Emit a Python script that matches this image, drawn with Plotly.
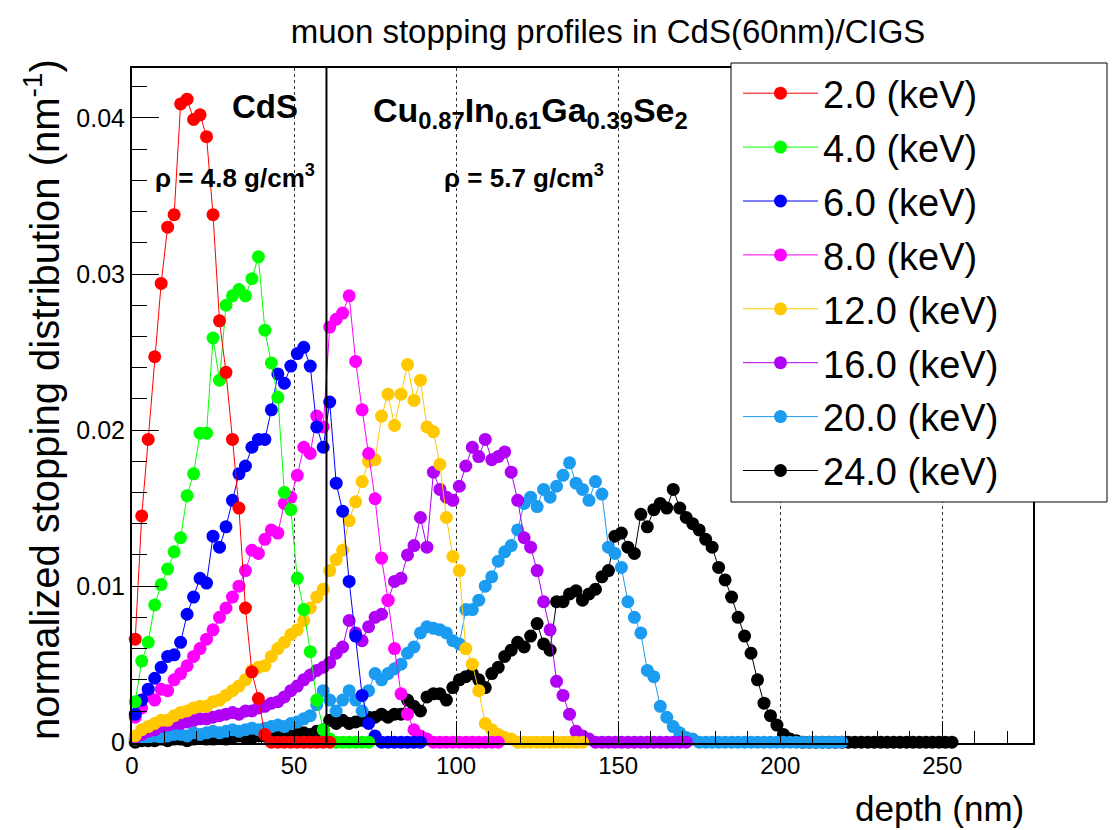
import plotly.graph_objects as go

# Depth bin centres in nm (2 nm wide bins)
DEPTH_NM = list(range(1, 255, 2))
CDS_THICKNESS_NM = 60

ENERGY_LABELS = ["2.0 (keV)", "4.0 (keV)", "6.0 (keV)", "8.0 (keV)",
                 "12.0 (keV)", "16.0 (keV)", "20.0 (keV)", "24.0 (keV)"]
COLORS = ["#ff0000", "#00ff00", "#0000ff", "#ff00ff",
          "#ffc800", "#b000f5", "#1c9cf0", "#000000"]

# Normalized stopping distribution (nm^-1) per implantation energy
E02 = [0.0066, 0.0145, 0.0194, 0.0247, 0.0294, 0.0330, 0.0338, 0.0409, 0.0412, 0.0399,
       0.0402, 0.0388, 0.0338, 0.0270, 0.0237, 0.0194, 0.0150, 0.0086, 0.0045, 0.0028,
       0.0005, 0, 0, 0, 0, 0, 0, 0, 0, 0, 0]
E04 = [0.0026, 0.0052, 0.0064, 0.0088, 0.0101, 0.0111, 0.0122, 0.0131, 0.0158, 0.0172,
       0.0198, 0.0198, 0.0259, 0.0232, 0.0280, 0.0286, 0.0290, 0.0286, 0.0297, 0.0311,
       0.0264, 0.0243, 0.0221, 0.0160, 0.0149, 0.0105, 0.0085, 0.0058, 0.0027, 0.0008,
       0.0002, 0, 0, 0, 0, 0, 0]
E06 = [0.0018, 0.0027, 0.0034, 0.0041, 0.0048, 0.0055, 0.0056, 0.0064, 0.0082, 0.0093,
       0.0105, 0.0102, 0.0132, 0.0125, 0.0138, 0.0155, 0.0172, 0.0177, 0.0189, 0.0194,
       0.0194, 0.0213, 0.0236, 0.0230, 0.0241, 0.0249, 0.0253, 0.0241, 0.0202, 0.0189,
       0.0218, 0.0166, 0.0148, 0.0103, 0.0068, 0.0030, 0.0012, 0.0004, 0, 0,
       0, 0, 0, 0, 0]
E08 = [0.0016, 0.0022, 0.0030, 0.0027, 0.0034, 0.0033, 0.0040, 0.0044, 0.0049, 0.0055,
       0.0060, 0.0066, 0.0072, 0.0080, 0.0086, 0.0093, 0.0100, 0.0110, 0.0123, 0.0121,
       0.0130, 0.0136, 0.0134, 0.0153, 0.0157, 0.0171, 0.0189, 0.0185, 0.0209, 0.0202,
       0.0266, 0.0271, 0.0275, 0.0286, 0.0244, 0.0213, 0.0185, 0.0156, 0.0118, 0.0091,
       0.0060, 0.0031, 0.0018, 0.0008, 0.0004, 0.0002, 0, 0, 0, 0,
       0, 0, 0, 0, 0, 0, 0]
E12 = [0.0004, 0.0008, 0.0010, 0.0012, 0.0014, 0.0014, 0.0017, 0.0019, 0.0020, 0.0022,
       0.0023, 0.0023, 0.0026, 0.0027, 0.0030, 0.0033, 0.0036, 0.0040, 0.0046, 0.0048,
       0.0049, 0.0055, 0.0060, 0.0064, 0.0069, 0.0072, 0.0078, 0.0086, 0.0093, 0.0098,
       0.0110, 0.0117, 0.0123, 0.0142, 0.0154, 0.0167, 0.0180, 0.0181, 0.0209, 0.0223,
       0.0203, 0.0223, 0.0242, 0.0219, 0.0232, 0.0202, 0.0199, 0.0178, 0.0144, 0.0119,
       0.0110, 0.0060, 0.0050, 0.0033, 0.0012, 0.0008, 0.0005, 0.0003, 0.0002, 0,
       0, 0, 0, 0, 0, 0, 0, 0, 0, 0]
E16 = [0.0003, 0.0005, 0.0007, 0.0008, 0.0010, 0.0011, 0.0012, 0.0012, 0.0013, 0.0014,
       0.0015, 0.0015, 0.0016, 0.0017, 0.0018, 0.0019, 0.0018, 0.0020, 0.0020, 0.0022,
       0.0023, 0.0025, 0.0026, 0.0029, 0.0033, 0.0036, 0.0040, 0.0043, 0.0046, 0.0048,
       0.0051, 0.0057, 0.0061, 0.0078, 0.0070, 0.0065, 0.0074, 0.0080, 0.0082, 0.0091,
       0.0103, 0.0105, 0.0120, 0.0126, 0.0144, 0.0125, 0.0173, 0.0162, 0.0157, 0.0155,
       0.0164, 0.0177, 0.0189, 0.0183, 0.0194, 0.0181, 0.0183, 0.0186, 0.0173, 0.0155,
       0.0131, 0.0125, 0.0110, 0.0090, 0.0072, 0.0039, 0.0030, 0.0018, 0.0007, 0.0004,
       0.0002, 0, 0, 0, 0, 0, 0, 0, 0, 0,
       0, 0, 0, 0, 0, 0]
E20 = [0.0002, 0.0003, 0.0003, 0.0004, 0.0003, 0.0004, 0.0005, 0.0005, 0.0004, 0.0006,
       0.0005, 0.0006, 0.0007, 0.0006, 0.0007, 0.0008, 0.0007, 0.0008, 0.0009, 0.0008,
       0.0009, 0.0010, 0.0011, 0.0010, 0.0012, 0.0013, 0.0015, 0.0017, 0.0024, 0.0033,
       0.0027, 0.0020, 0.0027, 0.0033, 0.0027, 0.0020, 0.0033, 0.0044, 0.0040, 0.0044,
       0.0047, 0.0050, 0.0057, 0.0061, 0.0070, 0.0074, 0.0073, 0.0072, 0.0070, 0.0065,
       0.0063, 0.0085, 0.0085, 0.0091, 0.0100, 0.0106, 0.0116, 0.0122, 0.0126, 0.0136,
       0.0153, 0.0157, 0.0151, 0.0162, 0.0157, 0.0164, 0.0171, 0.0179, 0.0166, 0.0162,
       0.0155, 0.0167, 0.0159, 0.0125, 0.0121, 0.0112, 0.0090, 0.0080, 0.0070, 0.0046,
       0.0042, 0.0023, 0.0016, 0.0010, 0.0006, 0.0003, 0.0002, 0, 0, 0,
       0, 0, 0, 0, 0, 0, 0, 0, 0, 0,
       0, 0, 0, 0, 0, 0, 0, 0, 0, 0]
E24 = [0.0000, 0.0001, 0.0001, 0.0001, 0.0002, 0.0001, 0.0002, 0.0002, 0.0001, 0.0002,
       0.0003, 0.0002, 0.0002, 0.0003, 0.0002, 0.0003, 0.0004, 0.0003, 0.0003, 0.0004,
       0.0004, 0.0003, 0.0004, 0.0005, 0.0004, 0.0005, 0.0006, 0.0005, 0.0007, 0.0008,
       0.0014, 0.0012, 0.0014, 0.0012, 0.0013, 0.0014, 0.0016, 0.0016, 0.0018, 0.0016,
       0.0018, 0.0018, 0.0027, 0.0023, 0.0020, 0.0029, 0.0031, 0.0031, 0.0027, 0.0035,
       0.0040, 0.0042, 0.0044, 0.0040, 0.0035, 0.0044, 0.0048, 0.0055, 0.0059, 0.0064,
       0.0061, 0.0068, 0.0076, 0.0063, 0.0059, 0.0090, 0.0090, 0.0095, 0.0097, 0.0091,
       0.0095, 0.0098, 0.0106, 0.0110, 0.0132, 0.0134, 0.0125, 0.0121, 0.0146, 0.0138,
       0.0149, 0.0153, 0.0150, 0.0162, 0.0150, 0.0144, 0.0140, 0.0136, 0.0130, 0.0125,
       0.0112, 0.0104, 0.0093, 0.0080, 0.0068, 0.0057, 0.0040, 0.0025, 0.0017, 0.0011,
       0.0005, 0.0002, 0.0001, 0, 0, 0, 0, 0, 0, 0,
       0, 0, 0, 0, 0, 0, 0, 0, 0, 0,
       0, 0, 0, 0, 0, 0, 0]

PROFILES = [E02, E04, E06, E08, E12, E16, E20, E24]

FONT = "Liberation Sans, Arial, Helvetica, sans-serif"

fig = go.Figure()
# highest energy drawn first so the shallow profiles sit on top
for rank in reversed(range(len(PROFILES))):
    values = PROFILES[rank]
    color = COLORS[rank]
    fig.add_trace(go.Scatter(
        x=DEPTH_NM[:len(values)],
        y=values,
        name=ENERGY_LABELS[rank],
        mode="lines+markers",
        line=dict(color=color, width=1),
        marker=dict(color=color, size=13),
        cliponaxis=False,
        legendrank=rank + 1,
        legendgroup=f"g{rank}",
    ))

# plot area in pixels: x 132..1033, y 68..743
L, R, T, B = 132, 1033, 68, 743
W_PX, H_PX = R - L, B - T


def px_x(px):
    return (px - L) / W_PX


def px_y(py):
    return (B - py) / H_PX


fig.update_layout(
    width=1112, height=830,
    margin=dict(l=L, r=1112 - R, t=T, b=830 - B, autoexpand=False),
    paper_bgcolor="white", plot_bgcolor="white",
    font=dict(family=FONT, color="black"),
    showlegend=True,
    title=dict(text="muon stopping profiles in CdS(60nm)/CIGS",
               x=608 / 1112, xanchor="center", xref="container",
               y=1 - 31 / 830, yanchor="middle", yref="container",
               font=dict(size=33, family=FONT, color="black")),
    legend=dict(
        x=px_x(738), xanchor="left", y=px_y(62), yanchor="top",
        bgcolor="rgba(0,0,0,0)", borderwidth=0,
        font=dict(size=38, family=FONT, color="black"),
        itemwidth=75, traceorder="grouped", tracegroupgap=1.5,
        maxheight=700,
    ),
)

fig.update_xaxes(
    range=[0, 278], showline=True, linecolor="black", linewidth=2, mirror=True,
    tickmode="linear", tick0=0, dtick=50,
    ticks="inside", ticklen=22, tickwidth=1, tickcolor="black",
    tickfont=dict(size=24, family=FONT, color="black"),
    showgrid=True, gridcolor="#333333", gridwidth=1, griddash="dot",
    zeroline=False,
    minor=dict(dtick=10, ticks="inside", ticklen=12, tickwidth=1,
               tickcolor="black", showgrid=False),
)
fig.update_yaxes(
    range=[-0.00005, 0.0432], showline=True, linecolor="black", linewidth=2, mirror=True,
    tickmode="linear", tick0=0, dtick=0.01,
    ticks="inside", ticklen=27, tickwidth=1, tickcolor="black",
    tickfont=dict(size=25, family=FONT, color="black"),
    showgrid=False, zeroline=False,
    minor=dict(dtick=0.002, ticks="inside", ticklen=15, tickwidth=1,
               tickcolor="black", showgrid=False),
)

# CdS / CIGS interface
fig.add_shape(type="line", xref="x", yref="paper",
              x0=CDS_THICKNESS_NM, x1=CDS_THICKNESS_NM, y0=0, y1=1,
              line=dict(color="black", width=2), layer="above")

# legend frame
fig.add_shape(type="rect", xref="paper", yref="paper",
              x0=px_x(731), x1=px_x(1107), y0=px_y(502), y1=px_y(63),
              fillcolor="white", line=dict(color="black", width=1), layer="above")

annotations = [
    dict(text="<b>CdS</b>", x=px_x(265), y=px_y(106), size=33),
    dict(text="<b>Cu<sub>0.87</sub>In<sub>0.61</sub>Ga<sub>0.39</sub>Se<sub>2</sub></b>",
         x=px_x(530), y=px_y(112), size=34),
    dict(text="<b>ρ = 4.8 g/cm<sup>3</sup></b>", x=px_x(235), y=px_y(177), size=26),
    dict(text="<b>ρ = 5.7 g/cm<sup>3</sup></b>", x=px_x(524), y=px_y(177), size=26),
]
for a in annotations:
    fig.add_annotation(text=a["text"], xref="paper", yref="paper", x=a["x"], y=a["y"],
                       xanchor="center", yanchor="middle", showarrow=False,
                       font=dict(size=a["size"], family=FONT, color="black"))

# axis titles
fig.add_annotation(text="normalized stopping distribution (nm<sup>-1</sup>)",
                   xref="paper", yref="paper", x=px_x(42), y=px_y(400),
                   xanchor="center", yanchor="middle", textangle=-90, showarrow=False,
                   font=dict(size=40, family=FONT, color="black"))
fig.add_annotation(text="depth (nm)", xref="paper", yref="paper",
                   x=px_x(1026), y=px_y(808), xanchor="right", yanchor="middle",
                   showarrow=False, font=dict(size=35, family=FONT, color="black"))

fig.write_html("out.html")
